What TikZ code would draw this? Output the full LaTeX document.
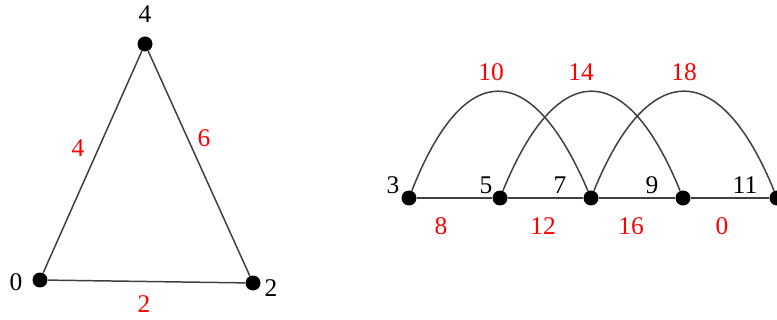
\documentclass[tikz,border=0pt]{standalone}
\usepackage{fontspec}
\setmainfont{Liberation Serif}
\begin{document}
\begin{tikzpicture}[x=0.02cm,y=-0.02cm,
  dot/.style={circle,fill=black,inner sep=0pt,minimum size=0.3cm},
  lbl/.style={font=\fontsize{14.5}{16}\selectfont,inner sep=0pt},
  wt/.style={lbl,text=red},
  edge/.style={line width=0.85pt,draw=black!75}]
\useasboundingbox (0,0) rectangle (777,320);
% triangle
\node[dot] (n4) at (145,44) {};
\node[dot] (n0) at (40,280) {};
\node[dot] (n2) at (253,283) {};
\draw[edge] (n0) -- (n4) -- (n2) -- (n0);
\node[lbl] (l4) at (145,14) {4};
\node[lbl] (l0) at (16,282) {0};
\node[lbl] (l2) at (271,288) {2};
\node[wt] (w4) at (78,148) {4};
\node[wt] (w6) at (204,138) {6};
\node[wt] (w2) at (144,304) {2};
% right graph
\node[dot] (a3) at (409,198) {};
\node[dot] (a5) at (500,198) {};
\node[dot] (a7) at (591,198) {};
\node[dot] (a9) at (683,198) {};
\node[dot] (a11) at (777,198) {};
\draw[edge] (a3) -- (a5) -- (a7) -- (a9) -- (a11);
\draw[edge] (a3) .. controls +(55,-140) and +(-60,-140) .. (a7);
\draw[edge] (a5) .. controls +(57,-140) and +(-57,-140) .. (a9);
\draw[edge] (a7) .. controls +(57,-140) and +(-57,-140) .. (a11);
\node[lbl] (l3) at (393,185) {3};
\node[lbl] (l5) at (486,185) {5};
\node[lbl] (l7) at (560,185) {7};
\node[lbl] (l9) at (652,185) {9};
\node[lbl] (l11) at (745,185) {11};
\node[wt] (w8) at (441,226) {8};
\node[wt] (w12) at (543,226) {12};
\node[wt] (w16) at (631,226) {16};
\node[wt] (w0) at (722,226) {0};
\node[wt] (w10) at (491,72) {10};
\node[wt] (w14) at (581,72) {14};
\node[wt] (w18) at (684,72) {18};
\end{tikzpicture}
\end{document}
